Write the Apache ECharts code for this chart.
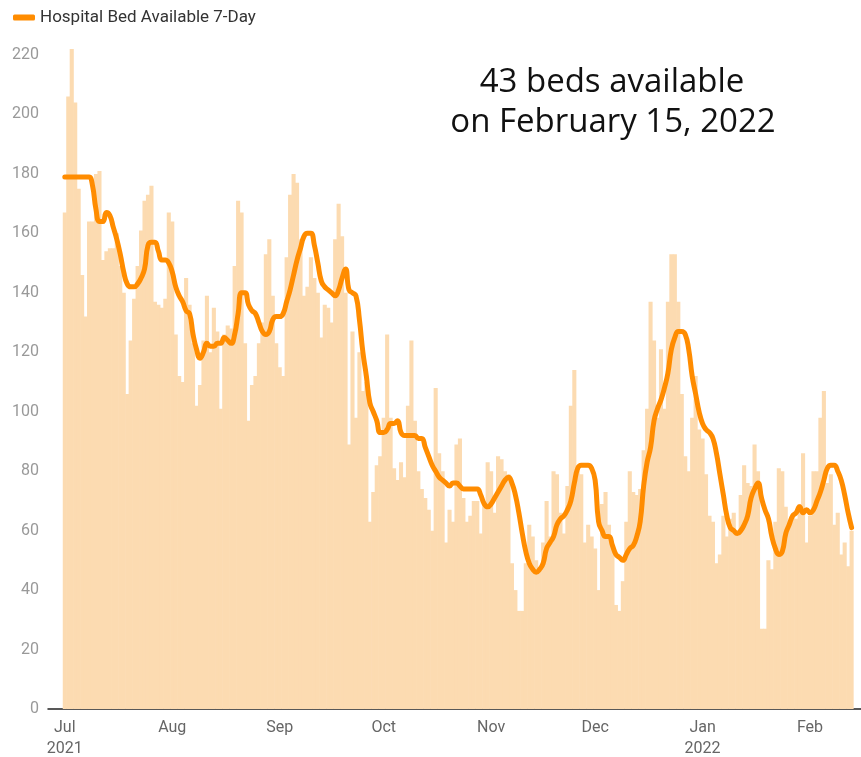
<!DOCTYPE html>
<html>
<head>
<meta charset="utf-8">
<script src="https://cdn.jsdelivr.net/npm/echarts@6/dist/echarts.min.js"></script>
<style>
  html, body { margin: 0; padding: 0; background: #ffffff; }
  #chart { width: 861px; height: 757px; }
</style>
</head>
<body>
<div id="chart"></div>
<script>
// First day of the daily series (Jul 1, 2021); one value per day follows.
const startYear = 2021, startMonth = 6, startDay = 1;
const monthNames = ['Jan','Feb','Mar','Apr','May','Jun','Jul','Aug','Sep','Oct','Nov','Dec'];
const seriesName = 'Hospital Bed Available 7-Day';
const annotationLines = ['43 beds available', 'on February 15, 2022'];
const yTicks = { min: 0, max: 220, step: 20 };

// Daily available beds (bars), Jul 1 2021 onward
const bedsJul = [167,206,222,204,175,146,132,164,164,180,181,151,154,155,155,160,149,140,106,124,138,149,161,171,173,176,137,136,135,138,167];
const bedsAug = [164,126,112,110,145,136,123,102,109,124,139,120,135,127,101,126,129,128,149,171,167,123,97,109,112,123,130,153,158,139,123];
const bedsSep = [115,112,152,173,180,177,158,139,142,152,145,140,125,136,135,130,158,170,159,140,89,127,98,120,107,110,63,73,82,85];
const bedsOct = [98,126,98,81,77,83,78,102,124,97,80,74,71,67,60,108,86,80,56,67,63,89,91,71,63,65,70,70,59,70,83];
const bedsNov = [80,66,85,84,80,79,49,40,33,33,49,62,58,50,47,56,70,58,80,79,66,59,75,102,114,80,79,56,62,58];
const bedsDec = [54,40,69,73,62,54,35,33,43,63,80,73,72,74,87,101,137,124,98,121,101,137,153,153,137,106,85,80,98,112,94];
const bedsJan = [91,79,65,63,49,52,65,58,64,66,60,72,82,76,75,89,80,27,27,50,47,63,81,80,68,63,65,64,69,86,56];
const bedsFeb = [65,80,80,98,107,76,79,62,66,52,56,48,60];

// 7-day line, Jul 1 2021 onward
const avgJul = [179,179,179,179,179,179,179,179,176,168,164,164,167,166,162,158,153,147,143,142,142,143,145,148,156,157,157,154,151,151,150];
const avgAug = [147,142,139,137,134,133,126,121,118,120,123,122,122,123,123,125,124,123,126,133,140,140,136,134,133,130,127,126,127,131,132];
const avgSep = [132,133,137,141,146,151,155,159,160,160,156,150,144,142,141,140,139,141,145,148,141,140,139,131,120,112,103,100,97,93];
const avgOct = [93,94,96,96,97,93,92,92,92,92,91,91,88,85,82,80,78,77,76,75,76,76,75,74,74,74,74,74,72,69,68];
const avgNov = [69,71,73,75,77,78,76,72,66,59,53,49,47,46,47,49,54,56,58,62,64,65,67,70,76,81,82,82,82,81];
const avgDec = [77,63,60,58,58,55,52,51,50,52,54,55,58,63,75,83,88,97,101,104,108,113,121,125,127,127,126,121,112,106,100];
const avgJan = [96,94,93,91,86,79,72,65,61,60,59,60,62,65,71,74,76,71,67,64,58,54,52,53,59,62,65,66,68,66,67];
const avgFeb = [66,67,70,73,77,81,82,82,80,77,72,66,61];

const beds = [].concat(bedsJul, bedsAug, bedsSep, bedsOct, bedsNov, bedsDec, bedsJan, bedsFeb);
const avg7 = [].concat(avgJul, avgAug, avgSep, avgOct, avgNov, avgDec, avgJan, avgFeb);

const DAY = 86400000;
const t0 = new Date(startYear, startMonth, startDay).getTime();
const dates = beds.map((_, i) => new Date(startYear, startMonth, startDay + i).getTime());

const chart = echarts.init(document.getElementById('chart'), null, { renderer: 'canvas' });
chart.setOption({
  animation: false,
  backgroundColor: '#ffffff',
  textStyle: { fontFamily: 'Roboto' },
  legend: {
    data: [seriesName],
    left: 8, top: 4,
    icon: 'roundRect',
    itemWidth: 22, itemHeight: 6,
    itemGap: 6,
    textStyle: { fontSize: 17, color: '#333', fontFamily: 'Roboto' }
  },
  grid: { left: 48, right: 0, top: 55, bottom: 48, containLabel: false, outerBoundsMode: 'none' },
  xAxis: {
    type: 'time',
    min: t0 - 4.24 * DAY,
    max: t0 + 229.1 * DAY,
    splitNumber: 8,
    minInterval: 28 * DAY,
    maxInterval: 31 * DAY,
    axisLine: { show: true, lineStyle: { color: '#222', width: 1.5 } },
    axisTick: { show: false },
    splitLine: { show: false },
    axisLabel: {
      color: '#666', fontSize: 16, lineHeight: 21, margin: 8,
      fontFamily: 'Roboto',
      showMinLabel: false, showMaxLabel: false,
      formatter: function (v) {
        const d = new Date(v);
        if (d.getDate() !== 1 || d.getHours() !== 0) return '';
        const m = d.getMonth();
        let s = monthNames[m];
        if (m === 0 || (m === startMonth && d.getFullYear() === startYear)) s += '\n' + d.getFullYear();
        return s;
      }
    }
  },
  yAxis: {
    type: 'value',
    min: yTicks.min, max: yTicks.max, interval: yTicks.step,
    axisLine: { show: false },
    axisTick: { show: false },
    splitLine: { show: false },
    axisLabel: { color: '#999', fontSize: 16, margin: 9, fontFamily: 'Roboto' }
  },
  series: [
    {
      name: 'Beds',
      type: 'bar',
      data: dates.map((t, i) => [t, beds[i]]),
      barWidth: '118%',
      clip: false,
      silent: true,
      itemStyle: { color: '#FCDBB1' },
      z: 1
    },
    {
      name: seriesName,
      type: 'line',
      data: dates.map((t, i) => [t, avg7[i]]),
      smooth: true,
      showSymbol: false,
      symbol: 'none',
      itemStyle: { color: '#FF8C00' },
      lineStyle: { color: '#FF8C00', width: 5, cap: 'round', join: 'round' },
      z: 3
    }
  ],
  graphic: [
    {
      type: 'text',
      x: 612, y: 83,
      style: {
        text: annotationLines[0],
        textAlign: 'center',
        textVerticalAlign: 'middle',
        font: '400 33px "Open Sans"',
        fill: '#111'
      },
      z: 10
    },
    {
      type: 'text',
      x: 613, y: 123,
      style: {
        text: annotationLines[1],
        textAlign: 'center',
        textVerticalAlign: 'middle',
        font: '400 33px "Open Sans"',
        fill: '#111'
      },
      z: 10
    }
  ]
});
</script>
</body>
</html>
